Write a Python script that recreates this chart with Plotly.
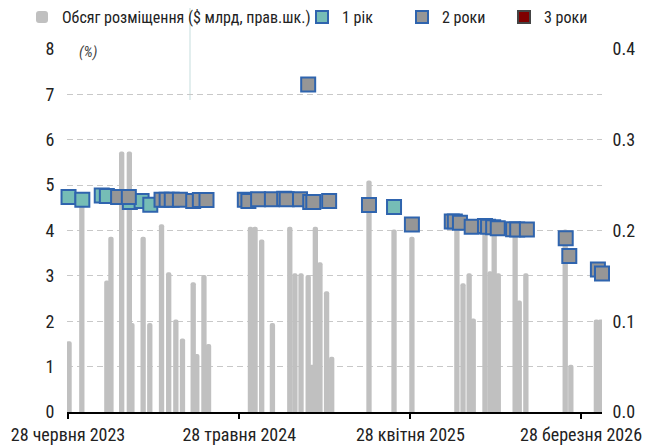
import plotly.graph_objects as go

# ---- data ----
bar_dates = ["2023-06-30","2023-07-25","2023-09-12","2023-09-20","2023-10-11","2023-10-26","2023-10-31",
             "2023-11-22","2023-12-05","2023-12-28","2024-01-11","2024-01-25","2024-02-07","2024-02-28",
             "2024-03-06","2024-03-20","2024-03-29","2024-06-19","2024-06-28","2024-07-11","2024-08-01",
             "2024-09-04","2024-09-14","2024-09-26","2024-10-10","2024-10-17","2024-10-24","2024-11-02",
             "2024-11-15","2024-11-25","2025-02-06","2025-03-27","2025-05-01","2025-07-28","2025-08-09",
             "2025-08-21","2025-08-29","2025-09-21","2025-10-01","2025-10-09","2025-10-17","2025-11-19",
             "2025-11-27","2025-12-10","2026-02-25","2026-03-08","2026-04-27","2026-05-05"]
bar_values = [0.078,0.235,0.145,0.193,0.287,0.287,0.098,0.193,0.098,0.207,0.154,0.102,0.081,0.143,
              0.064,0.151,0.075,0.204,0.204,0.19,0.098,0.204,0.153,0.153,0.151,0.052,0.204,0.165,
              0.133,0.061,0.255,0.201,0.193,0.21,0.142,0.153,0.103,0.205,0.155,0.2,0.153,0.2,
              0.123,0.153,0.201,0.052,0.102,0.102]

y1_dates = ["2023-06-29","2023-07-26","2023-09-02","2023-09-12","2023-10-27","2023-11-19","2023-12-06","2025-03-27"]
y1_values = [4.74,4.68,4.77,4.76,4.63,4.65,4.57,4.52]

y2_dates = ["2023-10-04","2023-10-25","2023-12-28","2024-01-07","2024-01-17","2024-02-02","2024-02-28",
            "2024-03-12","2024-03-25","2024-06-08","2024-06-15","2024-07-04","2024-07-31","2024-08-24",
            "2024-08-29","2024-09-24","2024-10-10","2024-10-14","2024-10-20","2024-11-20","2025-02-06",
            "2025-05-01","2025-07-18","2025-07-24","2025-08-03","2025-08-26","2025-09-21","2025-09-27",
            "2025-10-07","2025-10-16","2025-11-15","2025-11-23","2025-12-12","2026-02-26","2026-03-05",
            "2026-04-30","2026-05-08"]
y2_values = [4.74,4.74,4.68,4.68,4.68,4.68,4.65,4.67,4.67,4.68,4.65,4.69,4.69,4.7,4.69,4.69,7.22,
             4.63,4.63,4.65,4.56,4.13,4.2,4.2,4.17,4.08,4.1,4.08,4.07,4.05,4.03,4.02,4.02,3.83,
             3.44,3.14,3.05]

y3_dates = []
y3_values = []

x_tick_vals = ["2023-06-28", "2024-05-28", "2025-04-28", "2026-03-28"]
x_tick_text = ["28 червня 2023", "28 травня 2024", "28 квітня 2025", "28 березня 2026"]

names = ["Обсяг розміщення ($ млрд, прав.шк.)", "1 рік", "2 роки", "3 роки"]

FONT = "Roboto Condensed, Roboto, sans-serif"
BORDER = "#2f64ae"

fig = go.Figure()
fig.add_trace(go.Bar(x=bar_dates, y=bar_values, name=names[0], yaxis="y",
                     width=9.0e8, marker=dict(color="#c0c0c0", line=dict(width=0)),
                     legend="legend"))
fig.add_trace(go.Scatter(x=y1_dates, y=y1_values, name=names[1], yaxis="y2", mode="markers",
                         marker=dict(symbol="square", size=14, color="#76bdb6",
                                     line=dict(color=BORDER, width=2)),
                         cliponaxis=False, legend="legend2"))
fig.add_trace(go.Scatter(x=y2_dates, y=y2_values, name=names[2], yaxis="y2", mode="markers",
                         marker=dict(symbol="square", size=14, color="#969696",
                                     line=dict(color=BORDER, width=2)),
                         cliponaxis=False, legend="legend3"))
fig.add_trace(go.Scatter(x=y3_dates if y3_dates else [None], y=y3_values if y3_values else [None],
                         name=names[3], yaxis="y2", mode="markers",
                         marker=dict(symbol="square", size=14, color="#7f0000",
                                     line=dict(color="#444444", width=2)),
                         legend="legend4"))

# page has an 8px body margin: the figure is drawn 8px in from the window's top-left
OFF = 8
W, H = 653 - OFF, 446 - OFF
PL, PR, PT, PB = 67, 602, 49, 412          # plot area, in window pixels
L, T = PL - OFF, PT - OFF
R, B = W - (PR - OFF), H - (PB - OFF)
pw, ph = PR - PL, PB - PT

def px_x(p):
    return (p - PL) / pw

def px_y(p):
    return 1 - (p - PT) / ph

leg_common = dict(orientation="h", yanchor="middle", xanchor="left", y=px_y(17),
                  bgcolor="rgba(0,0,0,0)", font=dict(family=FONT, size=16, color="#222"),
                  itemsizing="constant", itemclick=False, itemdoubleclick=False)

fig.update_layout(
    width=W, height=H,
    margin=dict(l=L, r=R, t=T, b=B, pad=0, autoexpand=False),
    paper_bgcolor="white", plot_bgcolor="white",
    font=dict(family=FONT, size=18, color="#222"),
    barcornerradius=3,
    showlegend=True,
    legend=dict(x=px_x(22), **leg_common),
    legend2=dict(x=px_x(302), **leg_common),
    legend3=dict(x=px_x(402), **leg_common),
    legend4=dict(x=px_x(504), **leg_common),
    xaxis=dict(type="date", range=["2023-06-26", "2026-05-08"],
               tickvals=x_tick_vals, ticktext=x_tick_text,
               showline=True, linecolor="black", linewidth=2,
               ticks="outside", ticklen=5, tickwidth=2, tickcolor="black",
               showgrid=False, zeroline=False, automargin=False,
               tickfont=dict(family=FONT, size=18, color="#222")),
    yaxis=dict(side="right", range=[0, 0.4], tickvals=[0, 0.1, 0.2, 0.3, 0.4],
               tickformat=".1f", showgrid=False, zeroline=False, showline=False,
               ticks="outside", ticklen=6, tickcolor="rgba(0,0,0,0)", automargin=False,
               tickfont=dict(family=FONT, size=18, color="#222")),
    yaxis2=dict(overlaying="y", side="left", range=[0, 8], tickvals=list(range(0, 9)),
                showgrid=True, gridcolor="#c8c8c8", griddash="6px,4px", gridwidth=1,
                zeroline=False, showline=False,
                ticks="outside", ticklen=8, tickcolor="rgba(0,0,0,0)", automargin=False,
                tickfont=dict(family=FONT, size=18, color="#222")),
    annotations=[dict(text="<i>(%)</i>", x=px_x(88), y=px_y(52), xref="paper", yref="paper",
                      showarrow=False, font=dict(family=FONT, size=15, color="#444"),
                      bgcolor="white", xanchor="center", yanchor="middle")],
    shapes=[dict(type="line", xref="paper", yref="paper", x0=px_x(190), x1=px_x(190),
                 y0=px_y(OFF), y1=px_y(100), line=dict(color="#e2eeee", width=2), layer="below")],
)

fig.write_html("out.html")
